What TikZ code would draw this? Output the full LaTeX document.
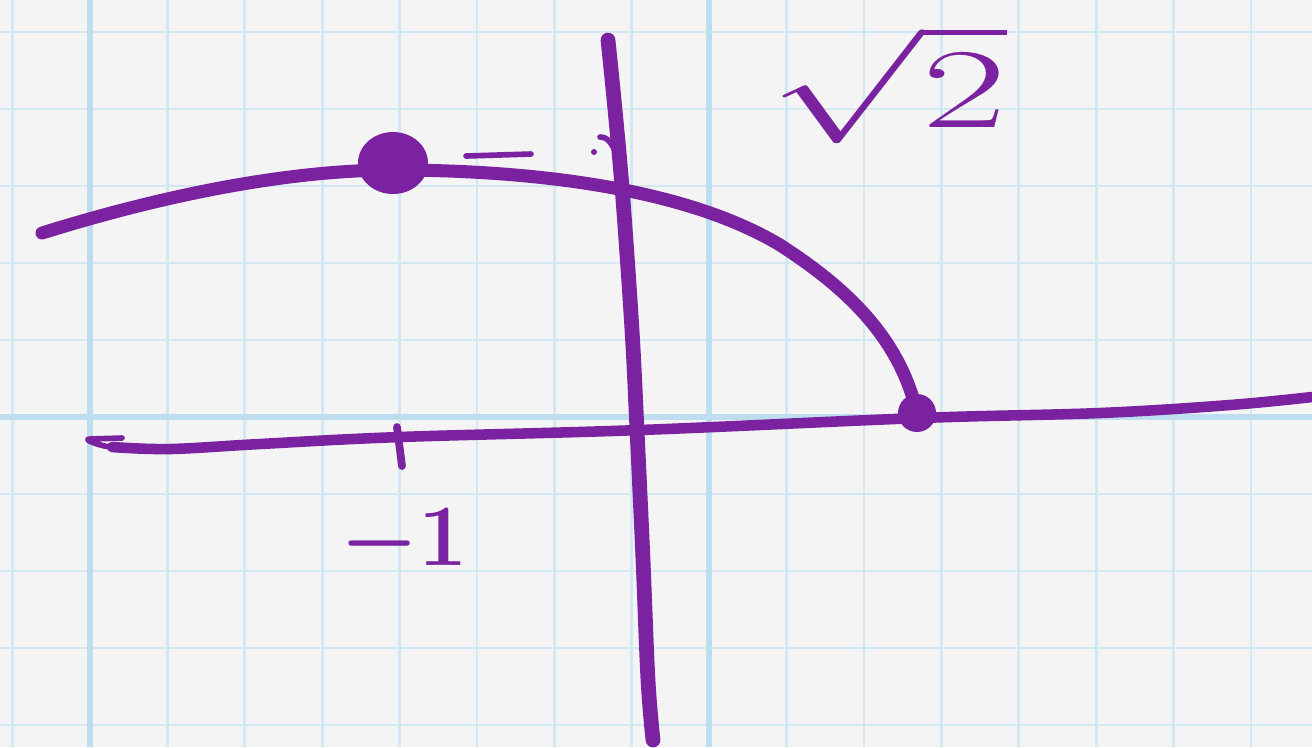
\documentclass[tikz,border=0pt]{standalone}
\usepackage{tikz}
\definecolor{paper}{RGB}{244,244,244}
\definecolor{gridblue}{RGB}{210,232,243}
\definecolor{gridbold}{RGB}{190,222,240}
\definecolor{penpurple}{RGB}{122,34,160}
\begin{document}
\begin{tikzpicture}[x=0.01cm, y=-0.01cm,
  pen/.style={line width=3.7pt, color=penpurple, line cap=round, line join=round},
  thinpen/.style={line width=1.6pt, color=penpurple, line cap=round, line join=round}]
% Paper and grid
\fill[paper] (0,0) rectangle (1312,747);
\useasboundingbox (0,0) rectangle (1312,747);
\foreach \k in {0,...,16} {
  \draw[gridblue, line width=0.8pt] ({12.6+77.4*\k},0) -- ({12.6+77.4*\k},747);
}
\foreach \k in {0,...,9} {
  \draw[gridblue, line width=0.8pt] (0,{32+77*\k}) -- (1312,{32+77*\k});
}
\draw[gridbold, line width=1.6pt] (90,0) -- (90,747);
\draw[gridbold, line width=1.6pt] (709,0) -- (709,747);
\draw[gridbold, line width=1.6pt] (0,417) -- (1312,417);

% Marked points
\coordinate (peak) at (393,163);
\coordinate (root) at (917,413);

% Horizontal axis
\draw[thinpen] (122,438) -- (90,439) to[out=180, in=180] (112,447);
\draw[pen, line width=3pt] plot[smooth, tension=0.6] coordinates {(112,447) (170,449) (260,444) (400,437) (640,430) (920,418) (1100,413) (1230,405) (1312,397)};

% Vertical axis
\draw[pen, line width=4.2pt] plot[smooth, tension=0.6] coordinates {(608,40) (616,120) (623,200) (632,330) (637,430) (643,560) (648,680) (653,740)};

% Curve through the two points
\draw[pen] (42,233) .. controls (180,190) and (300,170) .. (393,170)
  .. controls (520,170) and (680,185) .. (780,245)
  .. controls (850,290) and (900,340) .. (root);
\fill[penpurple] (peak) ellipse (35 and 31);
\fill[penpurple] (root) circle (19);

% Tick and small marks
\draw[pen, line width=2.2pt] (397,427) -- (402,466);
\draw[thinpen] (466,156) -- (531,154);
\fill[penpurple] (594,152) circle (3);
\draw[thinpen] (600,137) to[out=0, in=120] (616,152);

% Labels
\node[text=penpurple, font=\fontsize{25}{30}\selectfont\boldmath] (minusone) at (404,543) {$-1$};
\node[text=penpurple, inner sep=0pt, font=\Huge] (roottwo) at (888,85) {\scalebox{2.1}[1.3]{$\sqrt{2}$}};
\end{tikzpicture}
\end{document}
